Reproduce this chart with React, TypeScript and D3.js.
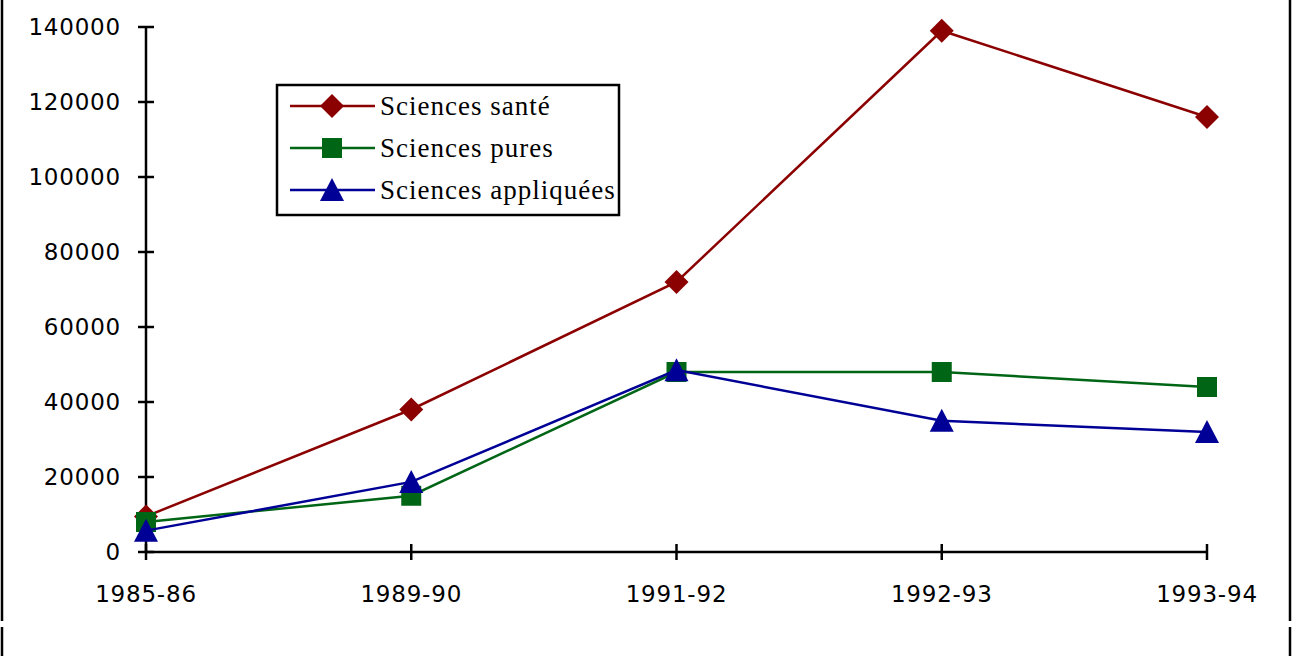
import React from 'react';
import * as d3 from 'd3';

const categories = ['1985-86', '1989-90', '1991-92', '1992-93', '1993-94'];
const santeValues = [9500, 38000, 72000, 139000, 116000];
const puresValues = [8000, 15000, 48000, 48000, 44000];
const appliqueesValues = [5700, 18700, 48500, 35000, 32000];
const yTicks = [0, 20000, 40000, 60000, 80000, 100000, 120000, 140000];

const seriesList = [
  { name: 'Sciences santé', values: santeValues, color: '#8b0000', marker: 'diamond' },
  { name: 'Sciences pures', values: puresValues, color: '#006616', marker: 'square' },
  { name: 'Sciences appliquées', values: appliqueesValues, color: '#000096', marker: 'triangle' }
];

const WIDTH = 1294;
const HEIGHT = 656;
const margin = { top: 27, right: 87, bottom: 104, left: 146 };

const axisFont = '"DejaVu Sans", Verdana, sans-serif';
const legendFont = '"Liberation Serif", "Times New Roman", serif';

// forme du marqueur selon la série
function markerPath(kind: string): string {
  if (kind === 'diamond') return 'M0,-12L12,0L0,12L-12,0Z';
  if (kind === 'square') return 'M-10,-10H10V10H-10Z';
  return 'M0,-12L12,11L-12,11Z';
}

export default function App() {
  const xScale = d3
    .scalePoint<string>()
    .domain(categories)
    .range([margin.left, WIDTH - margin.right]);

  const yScale = d3
    .scaleLinear()
    .domain([0, 140000])
    .range([HEIGHT - margin.bottom, margin.top]);

  const line = d3
    .line<number>()
    .x((_, i) => xScale(categories[i]) || 0)
    .y(d => yScale(d));

  const x0 = margin.left;
  const y0 = yScale(0);

  return (
    <svg
      width={WIDTH}
      height={HEIGHT}
      style={{ position: 'absolute', left: 0, top: 0, background: '#fff' }}
    >
      {/* cadre */}
      <line x1={2} x2={2} y1={0} y2={621} stroke="#000" strokeWidth={2.5} />
      <line x1={2} x2={2} y1={627} y2={HEIGHT} stroke="#000" strokeWidth={2.5} />
      <line x1={1290} x2={1290} y1={0} y2={621} stroke="#000" strokeWidth={2.5} />
      <line x1={1290} x2={1290} y1={627} y2={HEIGHT} stroke="#000" strokeWidth={2.5} />

      {/* axe y */}
      <g>
        <line x1={x0} x2={x0} y1={yScale(140000)} y2={y0} stroke="#000" strokeWidth={2.5} />
        {yTicks.map(t => (
          <g key={t}>
            <line x1={x0 - 8} x2={x0 + 8} y1={yScale(t)} y2={yScale(t)} stroke="#000" strokeWidth={2.5} />
            <text
              x={121}
              y={yScale(t)}
              textAnchor="end"
              dominantBaseline="central"
              fontFamily={axisFont}
              fontSize={23}
              letterSpacing={0.8}
              fill="#000"
            >
              {t}
            </text>
          </g>
        ))}
      </g>

      {/* axe x */}
      <g>
        <line x1={x0} x2={xScale(categories[categories.length - 1])} y1={y0} y2={y0} stroke="#000" strokeWidth={2.5} />
        {categories.map(c => (
          <g key={c}>
            <line x1={xScale(c)} x2={xScale(c)} y1={y0 - 8} y2={y0 + 8} stroke="#000" strokeWidth={2.5} />
            <text
              x={xScale(c)}
              y={594}
              textAnchor="middle"
              dominantBaseline="central"
              fontFamily={axisFont}
              fontSize={23}
              letterSpacing={0.8}
              fill="#000"
            >
              {c}
            </text>
          </g>
        ))}
      </g>

      {/* séries */}
      {seriesList.map(s => (
        <g key={s.name}>
          <path d={line(s.values) || ''} fill="none" stroke={s.color} strokeWidth={2.5} />
          {s.values.map((v, i) => (
            <path
              key={i}
              d={markerPath(s.marker)}
              transform={`translate(${xScale(categories[i])},${yScale(v)})`}
              fill={s.color}
            />
          ))}
        </g>
      ))}

      {/* légende */}
      <g>
        <rect x={277} y={85} width={342} height={130} fill="#fff" stroke="#000" strokeWidth={2.5} />
        {seriesList.map((s, i) => {
          const ly = 106 + i * 42;
          return (
            <g key={s.name}>
              <line x1={290} x2={375} y1={ly} y2={ly} stroke={s.color} strokeWidth={2.5} />
              <path d={markerPath(s.marker)} transform={`translate(332,${ly})`} fill={s.color} />
              <text
                x={380}
                y={ly}
                dominantBaseline="central"
                fontFamily={legendFont}
                fontSize={27}
                letterSpacing={1}
                fill="#000"
              >
                {s.name}
              </text>
            </g>
          );
        })}
      </g>
    </svg>
  );
}
